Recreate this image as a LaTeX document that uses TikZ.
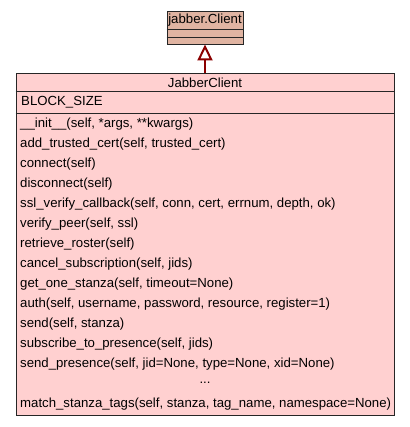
\documentclass[tikz,border=0pt]{standalone}
\usepackage{fontspec}
\setmainfont{Liberation Sans}
\usetikzlibrary{arrows.meta,shadows}

\definecolor{classpink}{RGB}{255,208,208}
\definecolor{basetan}{RGB}{224,180,162}
\definecolor{inheritred}{RGB}{139,0,0}

\tikzset{
  classbox/.style={rectangle,draw=black!85,line width=0.9pt,inner sep=0pt,
    drop shadow={shadow xshift=1.2pt,shadow yshift=-1.2pt,fill=black!45,opacity=1}},
  member/.style={anchor=west,inner sep=0pt,font=\fontsize{13.2}{15}\selectfont},
  title/.style={inner sep=0pt,font=\fontsize{13.2}{15}\selectfont},
  inherit/.style={draw=inheritred,line width=2pt,
    -{Triangle[open,width=15pt,length=16pt,line width=2pt]}}
}

\begin{document}
\begin{tikzpicture}
  [x=1pt,y=-1pt]
  \useasboundingbox (0,0) rectangle (409,427);
  % classes
  \node[classbox,fill=basetan,minimum width=76pt,minimum height=33pt] (base) at (205,27.5) {};
  \node[classbox,fill=classpink,minimum width=378pt,minimum height=342pt] (client) at (205,244) {};
  \draw[black!85,line width=0.9pt] (base.west |- 0,29) -- (base.east |- 0,29);
  \draw[black!85,line width=0.9pt] (base.west |- 0,37) -- (base.east |- 0,37);
  \draw[black!85,line width=0.9pt] (client.west |- 0,91) -- (client.east |- 0,91);
  \draw[black!85,line width=0.9pt] (client.west |- 0,113) -- (client.east |- 0,113);
  \node[title] (basename) at (205,20.5) {jabber.Client};
  \node[title] (clientname) at (205,82.5) {JabberClient};
  \node[member] (attr) at (21,102.5) {BLOCK\_SIZE};

  % methods
  \foreach \i/\m in {0/\_\_init\_\_(self{,} *args{,} **kwargs),
    1/add\_trusted\_cert(self{,} trusted\_cert),
    2/connect(self),
    3/disconnect(self),
    4/ssl\_verify\_callback(self{,} conn{,} cert{,} errnum{,} depth{,} ok),
    5/verify\_peer(self{,} ssl),
    6/retrieve\_roster(self),
    7/cancel\_subscription(self{,} jids),
    8/get\_one\_stanza(self{,} timeout=None),
    9/auth(self{,} username{,} password{,} resource{,} register=1),
    10/send(self{,} stanza),
    11/subscribe\_to\_presence(self{,} jids),
    12/send\_presence(self{,} jid=None{,} type=None{,} xid=None),
    14/match\_stanza\_tags(self{,} stanza{,} tag\_name{,} namespace=None)}
    \node[member] (m\i) at (20,124.5+20*\i) {\m};
  \node[title] (more) at (205,383) {...};

  \draw[inherit] (client.north) -- (base.south);
\end{tikzpicture}
\end{document}
